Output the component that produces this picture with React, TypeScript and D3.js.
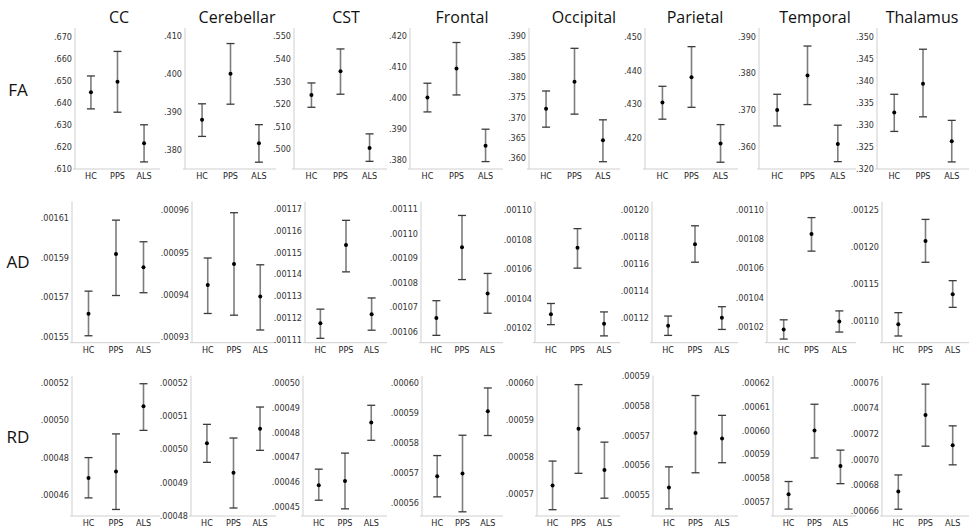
import React, { useRef, useEffect } from "react";
import * as d3 from "d3";

// regions (columns), groups (x categories), measures (rows)
const regions = ["CC", "Cerebellar", "CST", "Frontal", "Occipital", "Parietal", "Temporal", "Thalamus"];
const groups = ["HC", "PPS", "ALS"];
const measures = ["FA", "AD", "RD"];

// FA values: mean / lower / upper for HC, PPS, ALS
const faMean = [[.6447, .6495, .6216], [.3880, .4001, .3818], [.5239, .5345, .5004], [.4002, .4096, .3845], [.3721, .3788, .3644], [.4305, .4380, .4184], [.3700, .3794, .3608], [.3328, .3393, .3263]];
const faLow = [[.6372, .6357, .6132], [.3836, .3921, .3768], [.5185, .5243, .4945], [.3955, .4010, .3794], [.3676, .3708, .3591], [.4256, .4291, .4129], [.3657, .3715, .3560], [.3285, .3318, .3216]];
const faHigh = [[.6521, .6632, .6300], [.3922, .4081, .3867], [.5293, .5444, .5067], [.4048, .4180, .3899], [.3765, .3870, .3694], [.4353, .4470, .4240], [.3743, .3874, .3659], [.3369, .3471, .3310]];

// AD values
const adMean = [[.0015616, .0015917, .0015850], [.0009423, .0009473, .0009396], [.0011177, .0011534, .0011218], [.0010657, .0010945, .0010756], [.0010295, .0010744, .0010231], [.0011146, .0011748, .0011205], [.0010180, .0010835, .0010235], [.0010951, .0012080, .0011360]];
const adLow = [[.0015505, .0015708, .0015722], [.0009356, .0009352, .0009317], [.0011108, .0011411, .0011145], [.0010586, .0010813, .0010676], [.0010225, .0010607, .0010149], [.0011074, .0011615, .0011118], [.0010115, .0010718, .0010163], [.0010793, .0011792, .0011181]];
const adHigh = [[.0015730, .0016088, .0015979], [.0009487, .0009594, .0009471], [.0011241, .0011646, .0011292], [.0010727, .0011074, .0010838], [.0010368, .0010874, .0010311], [.0011217, .0011884, .0011286], [.0010247, .0010948, .0010308], [.0011109, .0012373, .0011543]];

// RD values
const rdMean = [[.0004691, .0004725, .0005075], [.0005018, .0004930, .0005062], [.0004587, .0004604, .0004841], [.0005688, .0005697, .0005905], [.0005723, .0005876, .0005765], [.0005524, .0005708, .0005690], [.0005731, .0006000, .0005850], [.0006749, .0007347, .0007112]];
const rdLow = [[.0004584, .0004522, .0004946], [.0004961, .0004824, .0004997], [.0004526, .0004491, .0004769], [.0005619, .0005569, .0005824], [.0005658, .0005756, .0005689], [.0005452, .0005574, .0005608], [.0005669, .0005884, .0005776], [.0006611, .0007104, .0006958]];
const rdHigh = [[.0004800, .0004927, .0005196], [.0005075, .0005034, .0005127], [.0004652, .0004717, .0004911], [.0005757, .0005825, .0005983], [.0005789, .0005995, .0005840], [.0005594, .0005835, .0005768], [.0005785, .0006110, .0005917], [.0006879, .0007589, .0007263]];

// y axis extents (bottom, top) per panel
const faDomain = [[.6100, .6738], [.3750, .4122], [.4911, .5537], [.3770, .4227], [.3573, .3920], [.4109, .4525], [.3540, .3923], [.3200, .3519]];
const adDomain = [[.0015470, .0016181], [.0009287, .0009620], [.0011088, .0011731], [.0010556, .0011130], [.0010103, .0011056], [.0011020, .0012062], [.0010090, .0011057], [.0010702, .0012613]];
const rdDomain = [[.0004487, .0005239], [.0004800, .0005221], [.0004462, .0005031], [.0005555, .0006024], [.0005641, .0006019], [.0005428, .0005902], [.0005640, .0006230], [.0006558, .0007655]];

// tick labels per panel
const faTicks = [
  [".610", ".620", ".630", ".640", ".650", ".660", ".670"],
  [".380", ".390", ".400", ".410"],
  [".500", ".510", ".520", ".530", ".540", ".550"],
  [".380", ".390", ".400", ".410", ".420"],
  [".360", ".365", ".370", ".375", ".380", ".385", ".390"],
  [".420", ".430", ".440", ".450"],
  [".360", ".370", ".380", ".390"],
  [".320", ".325", ".330", ".335", ".340", ".345", ".350"],
];
const adTicks = [
  [".00155", ".00157", ".00159", ".00161"],
  [".00093", ".00094", ".00095", ".00096"],
  [".00111", ".00112", ".00113", ".00114", ".00115", ".00116", ".00117"],
  [".00106", ".00107", ".00108", ".00109", ".00110", ".00111"],
  [".00102", ".00104", ".00106", ".00108", ".00110"],
  [".00112", ".00114", ".00116", ".00118", ".00120"],
  [".00102", ".00104", ".00106", ".00108", ".00110"],
  [".00110", ".00115", ".00120", ".00125"],
];
const rdTicks = [
  [".00046", ".00048", ".00050", ".00052"],
  [".00048", ".00049", ".00050", ".00051", ".00052"],
  [".00045", ".00046", ".00047", ".00048", ".00049", ".00050"],
  [".00056", ".00057", ".00058", ".00059", ".00060"],
  [".00057", ".00058", ".00059", ".00060"],
  [".00055", ".00056", ".00057", ".00058", ".00059"],
  [".00057", ".00058", ".00059", ".00060", ".00061", ".00062"],
  [".00066", ".00068", ".00070", ".00072", ".00074", ".00076"],
];

const rowData = [
  { mean: faMean, low: faLow, high: faHigh, domain: faDomain, ticks: faTicks },
  { mean: adMean, low: adLow, high: adHigh, domain: adDomain, ticks: adTicks },
  { mean: rdMean, low: rdLow, high: rdHigh, domain: rdDomain, ticks: rdTicks },
];

// layout
const W = 972, H = 532;
const rowTop = [28, 201.7, 375.7];
const rowBottom = [169, 342.7, 516];
const rowLabelY = [90, 262, 437];
const axisLeft = [
  [75, 185, 294, 410, 529, 645, 759, 877],
  [72, 192, 305, 421, 535, 652, 767, 882],
  [72, 191, 303, 422, 537, 653, 773, 882],
];
const plotRight = [160, 276, 387, 503, 620, 738, 856, 969];
const titleX = [119, 237, 346, 462, 584, 695, 815, 922];

const tickFont = "'Liberation Sans Narrow', 'Arial Narrow', 'DejaVu Sans Condensed', sans-serif";
const labelFont = "'Open Sans', 'Noto Sans', sans-serif";

const App = () => {
  const svgRef = useRef(null);

  useEffect(() => {
    const svg = d3.select(svgRef.current);
    svg.selectAll("*").remove();

    svg.append("rect").attr("width", W).attr("height", H).attr("fill", "#fff");

    // column titles
    svg.selectAll("text.title")
      .data(regions)
      .enter()
      .append("text")
      .attr("class", "title")
      .attr("x", (_, i) => titleX[i])
      .attr("y", 23)
      .attr("text-anchor", "middle")
      .style("font-family", labelFont)
      .style("font-size", "16px")
      .attr("fill", "#111")
      .text(d => d);

    // row labels
    svg.selectAll("text.rowlab")
      .data(measures)
      .enter()
      .append("text")
      .attr("class", "rowlab")
      .attr("x", 18)
      .attr("y", (_, i) => rowLabelY[i])
      .attr("dy", "0.36em")
      .attr("text-anchor", "middle")
      .style("font-family", labelFont)
      .style("font-size", "17px")
      .attr("fill", "#111")
      .text(d => d);

    rowData.forEach((row, r) => {
      regions.forEach((_, c) => {
        const x0 = axisLeft[r][c];
        const x1 = plotRight[c];
        const xScale = d3.scalePoint().domain(groups).range([x0, x1]).padding(0.6);
        const yScale = d3.scaleLinear().domain(row.domain[c]).range([rowBottom[r], rowTop[r]]);
        const g = svg.append("g");

        // axis lines
        g.append("line")
          .attr("x1", x0).attr("x2", x0)
          .attr("y1", rowTop[r]).attr("y2", rowBottom[r])
          .attr("stroke", "#cfcfcf").attr("stroke-width", 1);
        g.append("line")
          .attr("x1", x0 - 2).attr("x2", x1)
          .attr("y1", rowBottom[r]).attr("y2", rowBottom[r])
          .attr("stroke", "#cfcfcf").attr("stroke-width", 1);

        // y tick labels
        g.selectAll("text.ytick")
          .data(row.ticks[c])
          .enter()
          .append("text")
          .attr("class", "ytick")
          .attr("x", x0 - 3)
          .attr("y", d => yScale(+d))
          .attr("dy", "0.35em")
          .attr("text-anchor", "end")
          .style("font-family", tickFont)
          .style("font-size", "9px")
          .attr("fill", "#333")
          .text(d => d);

        // x labels
        g.selectAll("text.xtick")
          .data(groups)
          .enter()
          .append("text")
          .attr("class", "xtick")
          .attr("x", d => xScale(d))
          .attr("y", rowBottom[r] + 7)
          .attr("dy", "0.35em")
          .attr("text-anchor", "middle")
          .style("font-family", tickFont)
          .style("font-size", "9px")
          .attr("fill", "#222")
          .text(d => d);

        // error bars
        const bars = groups.map((k, i) => ({ k, m: row.mean[c][i], lo: row.low[c][i], hi: row.high[c][i] }));
        g.selectAll("line.err")
          .data(bars)
          .enter()
          .append("line")
          .attr("class", "err")
          .attr("x1", d => xScale(d.k)).attr("x2", d => xScale(d.k))
          .attr("y1", d => yScale(d.lo)).attr("y2", d => yScale(d.hi))
          .attr("stroke", "#7d7d7d").attr("stroke-width", 1.6);
        ["lo", "hi"].forEach(key => {
          g.selectAll(`line.cap${key}`)
            .data(bars)
            .enter()
            .append("line")
            .attr("class", `cap${key}`)
            .attr("x1", d => xScale(d.k) - 4).attr("x2", d => xScale(d.k) + 4)
            .attr("y1", d => yScale(d[key])).attr("y2", d => yScale(d[key]))
            .attr("stroke", "#3a3a3a").attr("stroke-width", 1.3);
        });
        g.selectAll("circle")
          .data(bars)
          .enter()
          .append("circle")
          .attr("cx", d => xScale(d.k))
          .attr("cy", d => yScale(d.m))
          .attr("r", 2)
          .attr("fill", "#000");
      });
    });
  }, []);

  return (
    <svg ref={svgRef} width={W} height={H} style={{ position: "absolute", left: 0, top: 0 }}></svg>
  );
};

export default App;
